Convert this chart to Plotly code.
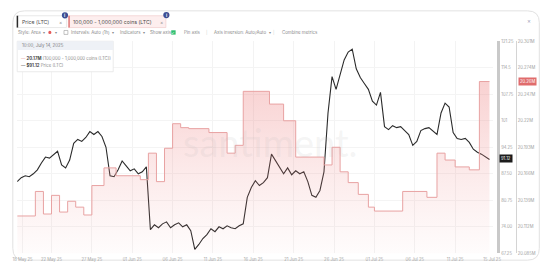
import plotly.graph_objects as go
import pandas as pd

W, H = 560, 270

# ---------------- data ----------------
price_start = "2025-05-17 18:00"
price_values = [
    85.5, 86.5, 87.0, 86.75, 87.5, 88.5, 90.25, 91.75, 91.5, 92.5,
    93.25, 89.75, 89.0, 91.0, 95.25, 96.25, 95.75, 96.75, 98.25, 97.5,
    98.25, 97.0, 94.25, 87.0, 86.75, 88.5, 90.75, 89.5, 88.25, 88.75,
    87.5, 88.0, 89.25, 73.25, 74.5, 73.75, 74.75, 75.25, 73.75, 74.5,
    75.0, 74.0, 74.5, 73.0, 68.25, 69.5, 71.0, 72.0, 73.5, 72.75,
    74.0, 73.5, 74.25, 73.75, 73.5, 74.25, 74.75, 81.5, 84.0, 85.75,
    84.5, 85.25, 86.5, 92.5, 90.75, 89.0, 87.5, 89.0, 87.25, 88.25,
    87.5, 88.0, 85.5, 82.0, 81.5, 83.25, 88.0, 103.0, 112.25, 109.0,
    112.5, 116.5, 118.5, 119.25, 114.25, 112.0, 110.5, 109.0, 106.0, 105.0,
    108.25, 99.5, 98.75, 99.75, 99.25, 99.5, 98.5, 97.5, 94.75, 95.75,
    98.5, 99.0, 99.25, 98.25, 97.5, 103.0, 105.5, 104.5, 98.0, 96.5,
    96.25, 96.5, 95.5, 93.75, 93.0, 92.5, 91.75, 91.12,
]
price_times = pd.date_range(price_start, periods=len(price_values), freq="12h")

holder_dates = [
    "2025-05-17 18:00", "2025-05-20 00:00", "2025-05-21 00:00", "2025-05-22 00:00",
    "2025-05-23 00:00", "2025-05-24 00:00", "2025-05-25 00:00", "2025-05-26 00:00",
    "2025-05-27 00:00", "2025-05-28 12:00", "2025-05-30 00:00", "2025-06-02 00:00",
    "2025-06-03 00:00", "2025-06-04 00:00", "2025-06-05 00:00", "2025-06-06 00:00",
    "2025-06-07 00:00", "2025-06-08 00:00", "2025-06-10 12:00", "2025-06-12 18:00",
    "2025-06-13 18:00", "2025-06-14 18:00", "2025-06-18 00:00", "2025-06-19 18:00",
    "2025-06-21 06:00", "2025-06-24 18:00", "2025-06-25 18:00", "2025-06-26 18:00",
    "2025-06-27 18:00", "2025-06-29 00:00", "2025-06-30 06:00", "2025-07-01 00:00",
    "2025-07-04 12:00", "2025-07-07 12:00", "2025-07-08 18:00", "2025-07-09 18:00",
    "2025-07-11 00:00", "2025-07-12 18:00", "2025-07-14 00:00", "2025-07-15 06:00",
]
holder_values = [
    20.123, 20.148, 20.125, 20.144,
    20.127, 20.138, 20.132, 20.124,
    20.154, 20.172, 20.164, 20.160,
    20.187, 20.158, 20.192, 20.217,
    20.213, 20.212, 20.208, 20.187,
    20.195, 20.250, 20.237, 20.220,
    20.183, 20.175, 20.193, 20.168,
    20.157, 20.145, 20.132, 20.128,
    20.148, 20.142, 20.187, 20.180,
    20.173, 20.170, 20.260, 20.260,
]

price_ticks = [67.25, 74.0, 80.75, 87.5, 94.25, 101.0, 107.75, 114.5, 121.25]
price_tick_labels = ["67.25", "74.00", "80.75", "87.50", "94.25", "101", "107.75", "114.5", "121.25"]
holder_ticks = [20.085, 20.112, 20.139, 20.166, 20.193, 20.220, 20.247, 20.274, 20.301]
holder_tick_labels = ["20.085M", "20.112M", "20.139M", "20.166M", "20.193M", "20.22M", "20.247M", "20.274M", "20.301M"]

x_tick_dates = ["2025-05-18 10:00", "2025-05-22", "2025-05-27", "2025-06-01", "2025-06-06",
                "2025-06-11", "2025-06-16", "2025-06-21", "2025-06-26", "2025-07-01",
                "2025-07-06", "2025-07-11", "2025-07-15 14:00"]
x_tick_labels = ["18 May 25", "22 May 25", "27 May 25", "01 Jun 25", "06 Jun 25",
                 "11 Jun 25", "16 Jun 25", "21 Jun 25", "26 Jun 25", "01 Jul 25",
                 "06 Jul 25", "11 Jul 25", "15 Jul 25"]
x_range = [price_start, "2025-07-15 15:00"]

price_name = "Price (LTC)"
holder_name = "100,000 - 1,000,000 coins (LTC)"
tooltip_date = "10:00, July 14, 2025"
tooltip_holder = "20.17M"
tooltip_price = "$91.12"

# ---------------- helpers (pixel -> paper) ----------------
def px(x):
    return x / W

def py(y):
    return 1 - y / H

def rrect(x0, y0, x1, y1, r):
    pts = [
        f"M {px(x0 + r)},{py(y0)}", f"L {px(x1 - r)},{py(y0)}",
        f"Q {px(x1)},{py(y0)} {px(x1)},{py(y0 + r)}", f"L {px(x1)},{py(y1 - r)}",
        f"Q {px(x1)},{py(y1)} {px(x1 - r)},{py(y1)}", f"L {px(x0 + r)},{py(y1)}",
        f"Q {px(x0)},{py(y1)} {px(x0)},{py(y1 - r)}", f"L {px(x0)},{py(y0 + r)}",
        f"Q {px(x0)},{py(y0)} {px(x0 + r)},{py(y0)}", "Z",
    ]
    return " ".join(pts)

def rect(x0, y0, x1, y1, fill, line="rgba(0,0,0,0)", lw=0, layer="above"):
    return dict(type="rect", xref="paper", yref="paper", x0=px(x0), x1=px(x1),
                y0=py(y1), y1=py(y0), fillcolor=fill, line=dict(color=line, width=lw), layer=layer)

def circ(cx, cy, r, fill, line="rgba(0,0,0,0)", lw=0):
    return dict(type="circle", xref="paper", yref="paper", x0=px(cx - r), x1=px(cx + r),
                y0=py(cy + r), y1=py(cy - r), fillcolor=fill, line=dict(color=line, width=lw), layer="above")

def txt(x, y, s, size=4.6, color="#8a8a8a", xanchor="left", bold=False, bg=None, family=None):
    d = dict(xref="paper", yref="paper", x=px(x), y=py(y), text=(f"<b>{s}</b>" if bold else s),
             showarrow=False, xanchor=xanchor, yanchor="middle",
             font=dict(size=size, color=color), borderpad=0)
    if family:
        d["font"]["family"] = family
    if bg:
        d["bgcolor"] = bg
        d["borderpad"] = 1
    return d

# ---------------- figure ----------------
fig = go.Figure()
fig.add_trace(go.Scatter(
    x=holder_dates, y=holder_values, yaxis="y2", mode="lines",
    line=dict(color="#e8a2a2", width=1, shape="hv"),
    fill="tozeroy",
    fillgradient=dict(type="vertical", start=holder_ticks[0], stop=holder_values[-1],
                      colorscale=[[0, "rgba(240,150,150,0.02)"], [1, "rgba(236,120,120,0.34)"]]),
    hoverinfo="skip",
))
fig.add_trace(go.Scatter(
    x=price_times, y=price_values, mode="lines",
    line=dict(color="#2b2b2b", width=1.1), hoverinfo="skip",
))

shapes = [
    dict(type="path", xref="paper", yref="paper", path=rrect(8, 8, 548, 262, 12),
         fillcolor="rgba(0,0,0,0)", line=dict(color="#e2e2e2", width=1), layer="below"),
    # metric chips
    rect(12, 13, 63, 25, "#ffffff", "#e3e3e3", 0.8),
    rect(12, 13, 13.5, 25, "#2b2b2b"),
    rect(65, 13, 165, 25, "#fdeeee", "#f3d2d2", 0.8),
    rect(65, 13, 66.5, 25, "#e07a7a"),
    circ(61.5, 12.5, 3.2, "#3d4f94"),
    circ(165.5, 12.3, 3.2, "#3d4f94"),
    # toolbar widgets
    circ(46, 30, 1.6, "#e55b5b"),
    rect(60.5, 28, 64.5, 32, "#ffffff", "#9a9a9a", 0.6),
    rect(170.5, 27.8, 175, 32.2, "#2fbf71"),
    # tooltip
    rect(12.5, 39, 111, 70, "#ffffff", "#e6e6e6", 0.8),
    rect(12.5, 39, 111, 48, "#eef1f6"),
]

annotations = [
    txt(16, 19, price_name, size=5.2, color="#4a4a4a"),
    txt(54, 19, "×", size=5, color="#9a9a9a"),
    txt(69, 19, holder_name, size=5.2, color="#4a4a4a"),
    txt(158, 19, "×", size=5, color="#9a9a9a"),
    txt(61.5, 12.6, "i", size=4.2, color="#ffffff", xanchor="center", bold=True),
    txt(165.5, 12.4, "i", size=4.2, color="#ffffff", xanchor="center", bold=True),
    txt(537, 18, "×", size=6, color="#a0a0b8", xanchor="center"),
    txt(12, 30, "Style: Area  ▾", size=4.4),
    txt(50, 30, "▾", size=4.4),
    txt(67, 30, "Intervals: Auto (1h)  ▾", size=4.4),
    txt(117, 30, "Indicators  ▾", size=4.4),
    txt(148, 30, "Show axis", size=4.4),
    txt(172.7, 30, "✓", size=3.8, color="#ffffff", xanchor="center"),
    txt(183, 30, "Pin axis", size=4.4),
    txt(205, 30, "|", size=4.4, color="#d0d0d0"),
    txt(213, 30, "Axis inversion: Auto/Auto  ▾", size=4.4),
    txt(274, 30, "|", size=4.4, color="#d0d0d0"),
    txt(283, 30, "Combine metrics", size=4.4),
    # tooltip text
    txt(16, 43.5, tooltip_date, size=4.4, color="#7a7a7a"),
    txt(15, 57, f'<span style="color:#e58f8f">—</span> <b style="color:#444">{tooltip_holder}</b> ({holder_name})',
        size=4.3, color="#8a8a8a"),
    txt(15, 63, f'<span style="color:#2b2b2b">—</span> <b style="color:#444">{tooltip_price}</b> {price_name}',
        size=4.3, color="#8a8a8a"),
    # watermark
    dict(xref="paper", yref="paper", x=px(272), y=py(142), text="santiment.", showarrow=False,
         xanchor="center", yanchor="middle", font=dict(size=38, color="rgba(180,180,180,0.14)", family="Lato")),
    # current value labels on axes
    txt(507, 158.5, f"{price_values[-1]:.2f}", size=4.2, color="#ffffff", bg="#1c1c1c"),
    txt(526, 79.5, f"{holder_values[-1]:.2f}M", size=4.2, color="#ffffff", bg="#e06c6c"),
]

fig.update_layout(
    width=W, height=H, margin=dict(l=0, r=0, t=0, b=0),
    paper_bgcolor="#ffffff", plot_bgcolor="rgba(0,0,0,0)", showlegend=False,
    font=dict(family="Inter, 'Noto Sans', sans-serif", size=5, color="#8a8a8a"),
    xaxis=dict(domain=[px(12.5), px(500)], range=x_range, tickvals=x_tick_dates, ticktext=x_tick_labels,
               tickfont=dict(size=4.2, color="#a5a5a5"), showgrid=True, gridcolor="#f3f3f3",
               gridwidth=1, zeroline=False, showline=False, ticks="", ticklabelstandoff=3),
    yaxis=dict(domain=[1 - 255 / H, 1 - 39 / H], range=[price_ticks[0], price_ticks[-1]], side="right",
               anchor="free", position=px(506), tickvals=price_ticks, ticktext=price_tick_labels,
               showline=True, linecolor="#c9c9c9", linewidth=3, showgrid=True, gridcolor="#f4f4f4",
               zeroline=False, tickfont=dict(size=4.2, color="#a0a0a0"), ticks=""),
    yaxis2=dict(domain=[1 - 255 / H, 1 - 39 / H], range=[holder_ticks[0], holder_ticks[-1]], side="right",
                overlaying="y", anchor="free", position=px(524), tickvals=holder_ticks,
                ticktext=holder_tick_labels, showline=True, linecolor="#d4d4d4", linewidth=1,
                showgrid=False, zeroline=False, tickfont=dict(size=4.2, color="#a0a0a0"), ticks=""),
    shapes=shapes, annotations=annotations,
)

fig.write_html("out.html")
